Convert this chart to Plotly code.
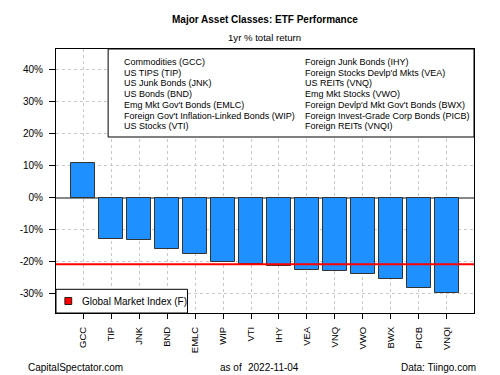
import plotly.graph_objects as go

tickers = ["GCC", "TIP", "JNK", "BND", "EMLC", "WIP", "VTI", "IHY", "VEA", "VNQ", "VWO", "BWX", "PICB", "VNQI"]
returns = [10.9, -12.8, -13.3, -16.1, -17.5, -20.0, -20.7, -21.4, -22.7, -23.0, -23.7, -25.5, -28.3, -29.7]
gmi_value = -20.8
gmi_label = "Global Market Index (F)"
legend_col1 = ["Commodities (GCC)", "US TIPS (TIP)", "US Junk Bonds (JNK)", "US Bonds (BND)",
               "Emg Mkt Gov't Bonds (EMLC)", "Foreign Gov't Inflation-Linked Bonds (WIP)", "US Stocks (VTI)"]
legend_col2 = ["Foreign Junk Bonds (IHY)", "Foreign Stocks Devlp'd Mkts (VEA)", "US REITs (VNQ)",
               "Emg Mkt Stocks (VWO)", "Foreign Devlp'd Mkt Gov't Bonds (BWX)",
               "Foreign Invest-Grade Corp Bonds (PICB)", "Foreign REITs (VNQI)"]
y_ticks = [-30, -20, -10, 0, 10, 20, 30, 40]
y_tick_labels = [f"{v}%" for v in y_ticks]

FONT = "Liberation Sans, Arial, sans-serif"
# page body has an 8px margin; the figure is sized to fit the window
W, H = 492, 367
L, T = 41, 41
R = W - (474 - 8)
B = H - (313 - 8)
PW, PH = W - L - R, H - T - B


def px_x(p):  # reference-window pixel -> paper
    return (p - 49) / PW


def px_y(p):
    return (313 - p) / PH


fig = go.Figure()
fig.add_trace(go.Bar(
    x=tickers, y=returns, width=0.833,
    marker=dict(color="#1E90FF", line=dict(color="#333333", width=1)),
    showlegend=False, hoverinfo="x+y"))

# Global market index line
fig.add_shape(type="line", xref="paper", yref="y", x0=0, x1=1, y0=gmi_value, y1=gmi_value,
              line=dict(color="#FF0000", width=2), layer="above")

# Top legend box
fig.add_shape(type="rect", xref="paper", yref="paper", x0=px_x(102), x1=1, y0=px_y(137), y1=1,
              fillcolor="white", line=dict(color="black", width=1), layer="above")
for i, (a, b) in enumerate(zip(legend_col1, legend_col2)):
    yy = px_y(62 + i * 10.7)
    fig.add_annotation(x=px_x(116.5), y=yy, xref="paper", yref="paper", text=a, showarrow=False,
                       xanchor="left", yanchor="middle", font=dict(family=FONT, size=9, color="black"))
    fig.add_annotation(x=px_x(300.5), y=yy, xref="paper", yref="paper", text=b, showarrow=False,
                       xanchor="left", yanchor="middle", font=dict(family=FONT, size=9, color="black"))

# Bottom legend box
fig.add_shape(type="rect", xref="paper", yref="paper", x0=0, x1=px_x(182.7), y0=0, y1=px_y(289.3),
              fillcolor="white", line=dict(color="black", width=1), layer="above")
fig.add_shape(type="rect", xref="paper", yref="paper", x0=px_x(58), x1=px_x(65), y0=px_y(304.5), y1=px_y(297.5),
              fillcolor="#FF0000", line=dict(color="black", width=0.8), layer="above")
fig.add_annotation(x=px_x(73), y=px_y(301.5), xref="paper", yref="paper", text=gmi_label, showarrow=False,
                   xanchor="left", yanchor="middle", font=dict(family=FONT, size=10, color="black"))

# Titles
fig.add_annotation(x=px_x(261), y=px_y(20), xref="paper", yref="paper", text="<b>Major Asset Classes: ETF Performance</b>",
                   showarrow=False, yanchor="middle", font=dict(family=FONT, size=10, color="black"))
fig.add_annotation(x=px_x(261), y=px_y(37), xref="paper", yref="paper", text="1yr % total return",
                   showarrow=False, yanchor="middle", font=dict(family=FONT, size=9.6, color="black"))
# Footer
fig.add_annotation(x=px_x(19), y=px_y(367), xref="paper", yref="paper", text="CapitalSpectator.com",
                   showarrow=False, xanchor="left", yanchor="middle", font=dict(family=FONT, size=10, color="black"))
fig.add_annotation(x=px_x(214), y=px_y(367), xref="paper", yref="paper", text="as of",
                   showarrow=False, xanchor="left", yanchor="middle", font=dict(family=FONT, size=10, color="black"))
fig.add_annotation(x=px_x(298), y=px_y(367), xref="paper", yref="paper", text="2022-11-04",
                   showarrow=False, xanchor="right", yanchor="middle", font=dict(family=FONT, size=10, color="black"))
fig.add_annotation(x=px_x(478), y=px_y(367), xref="paper", yref="paper", text="Data: Tiingo.com",
                   showarrow=False, xanchor="right", yanchor="middle", font=dict(family=FONT, size=10, color="black"))

fig.update_layout(
    width=W, height=H, margin=dict(l=L, r=R, t=T, b=B),
    paper_bgcolor="white", plot_bgcolor="white", bargap=0,
    font=dict(family=FONT, color="black"),
    xaxis=dict(range=[-0.97, 13.97], tickangle=-90, ticks="outside", ticklen=5, tickcolor="black",
               ticklabelstandoff=4,
               showgrid=True, gridcolor="#C8C8C8", griddash="dot", gridwidth=1,
               showline=True, linecolor="black", linewidth=1, mirror=True,
               tickfont=dict(family=FONT, size=9.5, color="black"), fixedrange=True),
    yaxis=dict(range=[-36, 46.5], tickvals=y_ticks, ticktext=y_tick_labels, ticks="outside", ticklen=6,
               ticklabelstandoff=4,
               tickcolor="black", showgrid=True, gridcolor="#C8C8C8", griddash="dot", gridwidth=1,
               zeroline=True, zerolinecolor="#888888", zerolinewidth=1.5,
               showline=True, linecolor="black", linewidth=1, mirror=True,
               tickfont=dict(family=FONT, size=10, color="black"), fixedrange=True),
)

fig.write_html("out.html")
